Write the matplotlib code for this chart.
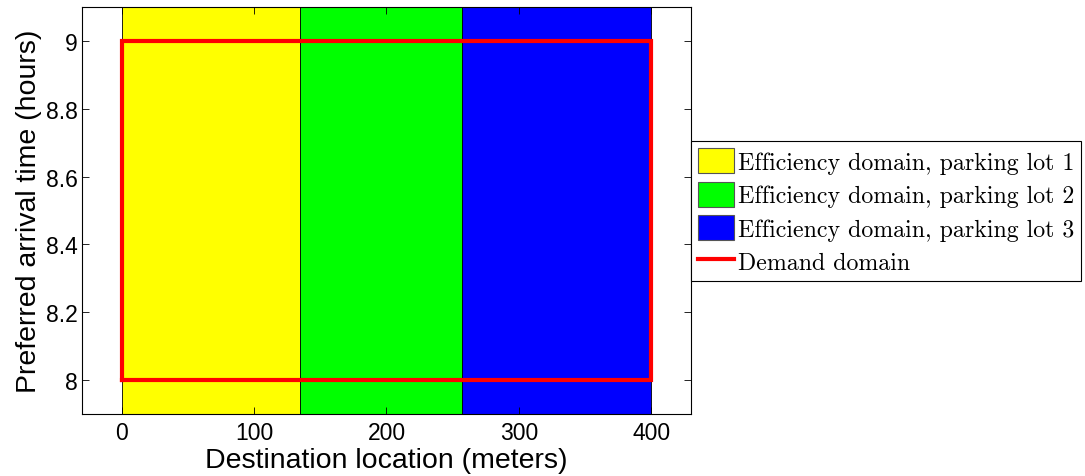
import matplotlib
matplotlib.use("Agg")
import matplotlib.pyplot as plt
from matplotlib.patches import Rectangle, Patch
from matplotlib.lines import Line2D

# Data
lot_bounds = [0, 135, 257, 400]  # efficiency domain boundaries (meters)
lot_colors = ["#ffff00", "#00ff00", "#0000ff"]
lot_labels = ["Efficiency domain, parking lot 1",
              "Efficiency domain, parking lot 2",
              "Efficiency domain, parking lot 3"]
demand_x = [0, 400]
demand_t = [8, 9]
xticks = [0, 100, 200, 300, 400]
yticks = [8, 8.2, 8.4, 8.6, 8.8, 9]
ytick_labels = ['8', '8.2', '8.4', '8.6', '8.8', '9']
xlim = (-30, 430)
ylim = (7.9, 9.1)

plt.rcParams['font.family'] = ['Liberation Sans', 'DejaVu Sans']

fig = plt.figure(figsize=(10.85, 4.77), dpi=100)
ax = fig.add_axes([82/1085, 1-415/477, (691-82)/1085, (415-8)/477])

for i in range(3):
    ax.add_patch(Rectangle((lot_bounds[i], ylim[0] - 1), lot_bounds[i+1] - lot_bounds[i],
                           ylim[1] - ylim[0] + 2, facecolor=lot_colors[i],
                           edgecolor='black', linewidth=0.6, zorder=1))

ax.plot([demand_x[0], demand_x[1], demand_x[1], demand_x[0], demand_x[0]],
        [demand_t[0], demand_t[0], demand_t[1], demand_t[1], demand_t[0]],
        color='red', linewidth=3, zorder=3, solid_joinstyle='miter')

ax.set_xlim(*xlim)
ax.set_ylim(*ylim)
ax.set_xticks(xticks)
ax.set_yticks(yticks)
ax.set_yticklabels(ytick_labels)
ax.tick_params(direction='in', length=5, labelsize=16.5, top=True, right=True, width=0.6)
ax.tick_params(axis='x', pad=5)
ax.tick_params(axis='y', pad=3)
for s in ax.spines.values():
    s.set_linewidth(0.8)
    s.set_zorder(5)
ax.set_xlabel("Destination location (meters)", fontsize=20.5, labelpad=2)
ax.set_ylabel("Preferred arrival time (hours)", fontsize=20.5, labelpad=3)

handles = [Patch(facecolor=c, edgecolor='#555555', linewidth=0.8) for c in lot_colors]
handles.append(Line2D([0], [0], color='red', linewidth=3))
labels = lot_labels + ["Demand domain"]
leg = ax.legend(handles, labels, loc='upper left', bbox_to_anchor=(1.0, (415-142)/407),
                borderaxespad=0, prop={'family': 'cmr10', 'size': 17.2},
                handlelength=1.5, handleheight=1.22, handletextpad=0.15,
                labelspacing=0.34, borderpad=0.3, fancybox=False, framealpha=1,
                edgecolor='black')
leg.get_frame().set_linewidth(0.8)

fig.savefig("out.png", dpi=100)
